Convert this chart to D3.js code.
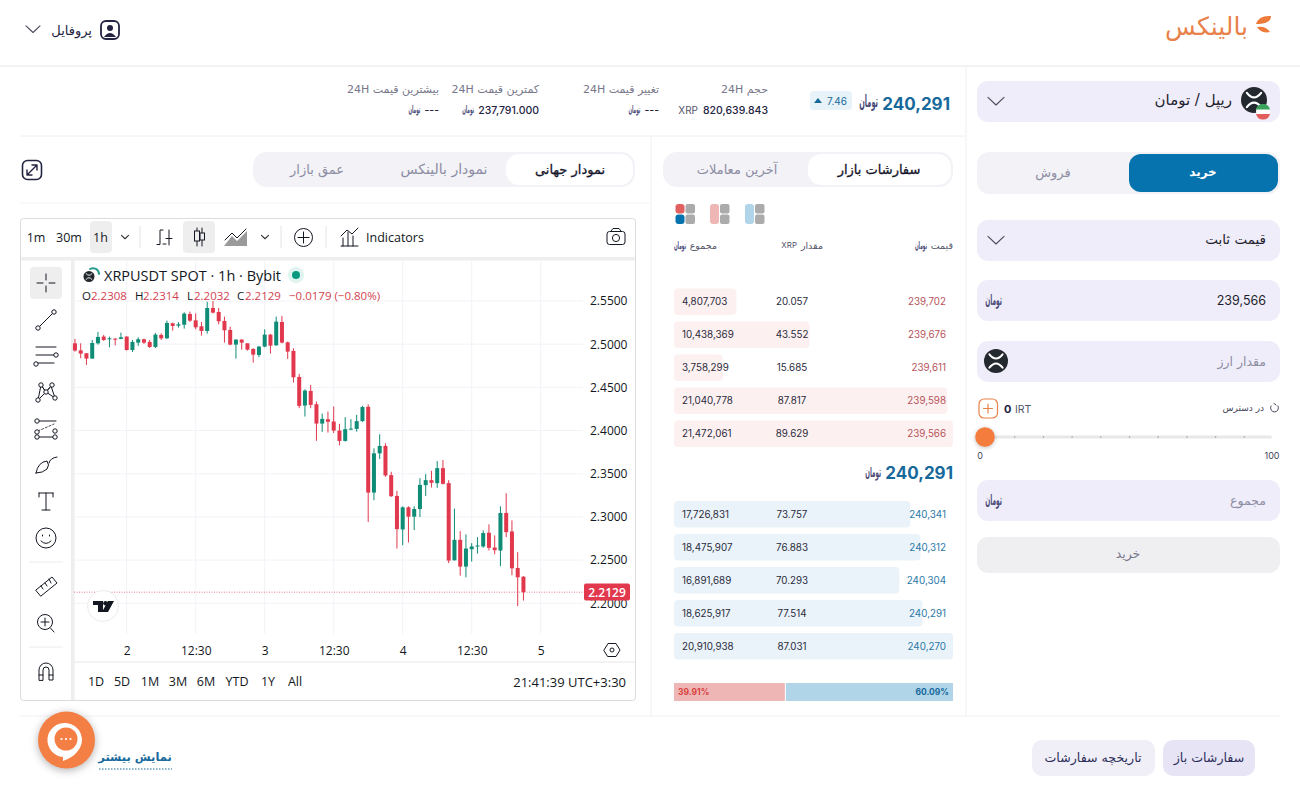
<!DOCTYPE html>
<html lang="fa">
<head>
<meta charset="utf-8">
<title>XRP / IRT</title>
<script src="https://d3js.org/d3.v7.min.js"></script>
<style>
  html, body { margin: 0; background: #fff; overflow: hidden; }
  svg { display: block; }
  text { font-family: "DejaVu Sans", sans-serif; }
  .num { font-family: "Inter", sans-serif; }
  .tv text, text.tv { font-family: "Open Sans", sans-serif; }
</style>
</head>
<body>
<div id="chart"></div>
<script>
// candles, hourly, oldest first
const opens = [2.5010,2.4929,2.4895,2.4833,2.5010,2.5088,2.5061,2.5064,2.5061,2.5088,2.4933,2.5018,2.5057,2.5026,2.4968,2.5107,2.5068,2.5242,2.5215,2.5226,2.5350,2.5276,2.5207,2.5153,2.5419,2.5373,2.5269,2.5165,2.4995,2.5053,2.5010,2.4945,2.4875,2.4972,2.5111,2.4987,2.5257,2.5022,2.4922,2.4621,2.4290,2.4459,2.4305,2.4081,2.4131,2.4105,2.4000,2.3880,2.4012,2.4019,2.4109,2.4275,2.3282,2.3736,2.3822,2.3484,2.3243,2.2855,2.3111,2.3003,2.3092,2.3368,2.3426,2.3391,2.3565,2.3391,2.2498,2.2735,2.2425,2.2626,2.2661,2.2658,2.2817,2.2646,2.2611,2.3046,2.2832,2.2409,2.2308];
const highs = [2.5061,2.5010,2.4895,2.5049,2.5141,2.5107,2.5088,2.5072,2.5134,2.5092,2.5049,2.5080,2.5064,2.5049,2.5130,2.5126,2.5273,2.5249,2.5257,2.5369,2.5377,2.5357,2.5257,2.5492,2.5500,2.5419,2.5319,2.5203,2.5057,2.5057,2.5010,2.4953,2.4980,2.5172,2.5118,2.5319,2.5327,2.5030,2.4953,2.4656,2.4478,2.4529,2.4336,2.4197,2.4220,2.4279,2.4078,2.4155,2.4132,2.4182,2.4287,2.4303,2.3794,2.3957,2.3853,2.3523,2.3302,2.3123,2.3123,2.3123,2.3449,2.3496,2.3534,2.3647,2.3659,2.3426,2.3096,2.2836,2.2797,2.2696,2.2766,2.2844,2.2914,2.2786,2.3123,2.3274,2.2960,2.2592,2.2314];
const lows = [2.4914,2.4837,2.4760,2.4833,2.4995,2.5037,2.4964,2.4987,2.5057,2.4926,2.4910,2.4980,2.5003,2.4956,2.4956,2.5049,2.5061,2.5157,2.5192,2.5180,2.5257,2.5172,2.5099,2.5122,2.5357,2.5230,2.5018,2.4987,2.4833,2.4937,2.4926,2.4787,2.4849,2.4964,2.4891,2.4980,2.5010,2.4829,2.4556,2.4259,2.4162,2.4259,2.3881,2.3985,2.3977,2.3972,2.3829,2.3872,2.4004,2.3988,2.4101,2.2941,2.3193,2.3670,2.3465,2.3232,2.2634,2.2673,2.2704,2.2848,2.2999,2.3243,2.3340,2.3337,2.3375,2.2464,2.2495,2.2320,2.2301,2.2483,2.2576,2.2642,2.2611,2.2568,2.2429,2.2766,2.2324,2.1967,2.2032];
const closes = [2.4926,2.4891,2.4833,2.5014,2.5084,2.5049,2.5068,2.5057,2.5080,2.4933,2.5026,2.5057,2.5018,2.4968,2.5111,2.5068,2.5246,2.5211,2.5230,2.5354,2.5273,2.5195,2.5153,2.5419,2.5365,2.5265,2.5161,2.4995,2.5053,2.5018,2.4937,2.4879,2.4972,2.5111,2.4983,2.5261,2.5018,2.4914,2.4617,2.4286,2.4463,2.4297,2.4081,2.4135,2.4101,2.4000,2.3880,2.4016,2.4023,2.4109,2.4272,2.3282,2.3736,2.3822,2.3480,2.3240,2.2859,2.3111,2.3003,2.3092,2.3371,2.3426,2.3395,2.3565,2.3383,2.2495,2.2735,2.2425,2.2634,2.2658,2.2669,2.2813,2.2642,2.2615,2.3046,2.2824,2.2405,2.2301,2.2129];
const firstHour = -9; // first candle sits 9 hours before the "2" tick
const lastPrice = 2.2129;

const priceTicks = [2.20,2.25,2.30,2.35,2.40,2.45,2.50,2.55];
const hourTicks = [0,12,24,36,48,60,72];
const hourLabels = ['2','12:30','3','12:30','4','12:30','5'];

const askPrices = ['239,702','239,676','239,611','239,598','239,566'];
const askAmounts = [20.057,43.552,15.685,87.817,89.629];
const askTotals = ['4,807,703','10,438,369','3,758,299','21,040,778','21,472,061'];
const bidPrices = ['240,341','240,312','240,304','240,291','240,270'];
const bidAmounts = [73.757,76.883,70.293,77.514,87.031];
const bidTotals = ['17,726,831','18,475,907','16,891,689','18,625,917','20,910,938'];
const buyShare = 39.91, sellShare = 60.09;

const stats = [
  { label: 'حجم 24H', value: '820,639.843', right: 768, unit: 'XRP' },
  { label: 'تغییر قیمت 24H', value: '---', right: 659 },
  { label: 'کمترین قیمت 24H', value: '237,791.000', right: 539 },
  { label: 'بیشترین قیمت 24H', value: '---', right: 439 }
];
const ranges = ['1D','5D','1M','3M','6M','YTD','1Y','All'];
const rangeX = [96,122,150,178,206,237,268,295];

const INK = '#232342', MUTED = '#8d8da3', BLUE = '#17699b', RED = '#b6545b', LILAC = '#efedfa', TAB = '#f2f2f7';
const UP = '#0e8c76', DOWN = '#e2384d', LINE = '#f0f0f3';

const svg = d3.select('#chart').append('svg').attr('width', 1300).attr('height', 800);

const rect = (x, y, w, h, fill, r = 0, parent = svg) => parent.append('rect')
  .attr('x', x).attr('y', y).attr('width', w).attr('height', h).attr('rx', r).attr('fill', fill);
const line = (x1, y1, x2, y2, color = LINE, width = 1) => svg.append('line')
  .attr('x1', x1).attr('y1', y1).attr('x2', x2).attr('y2', y2).attr('stroke', color).attr('stroke-width', width);
const icon = (d, color = INK, width = 1.2) => svg.append('path')
  .attr('d', d).attr('fill', 'none').attr('stroke', color).attr('stroke-width', width)
  .attr('stroke-linecap', 'round').attr('stroke-linejoin', 'round');
// Persian text, right edge at x
const fa = (x, y, str, size, color = INK, weight = 400) => svg.append('text')
  .attr('x', x).attr('y', y).attr('direction', 'rtl').attr('text-anchor', 'start')
  .attr('dominant-baseline', 'central').attr('font-size', size).attr('fill', color).attr('font-weight', weight).text(str);
const faMid = (x, y, str, size, color = INK, weight = 400) => fa(x, y, str, size, color, weight).attr('text-anchor', 'middle');
// DejaVu has no medium weight, a thin outline gets close
const medium = (sel, w = 0.3) => sel.attr('stroke', sel.attr('fill')).attr('stroke-width', w);
const num = (x, y, str, size, color = INK, anchor = 'start', weight = 400) => svg.append('text')
  .attr('class', 'num').attr('x', x).attr('y', y).attr('text-anchor', anchor)
  .attr('dominant-baseline', 'central').attr('font-size', size).attr('fill', color).attr('font-weight', weight).text(str);
const tv = (x, y, str, size, color = '#131722', anchor = 'start') => svg.append('text')
  .attr('class', 'tv').attr('x', x).attr('y', y).attr('text-anchor', anchor)
  .attr('dominant-baseline', 'central').attr('font-size', size).attr('fill', color).text(str);
// the toman mark is a tight, tall logotype in the original
const toman = (x, y, size = 8, color = '#4b4b78') => fa(0, 0, 'تومان', size, color, 700)
  .attr('transform', `translate(${x},${y}) scale(0.6,1.5)`);
const chevron = (x, y, s = 8, color = '#4a4a5c') => icon(`M${x - s},${y - s * 0.45}L${x},${y + s * 0.5}L${x + s},${y - s * 0.45}`, color, 1.1);
const xrpBadge = (x, y, r) => {
  svg.append('circle').attr('cx', x).attr('cy', y).attr('r', r).attr('fill', '#23292f');
  const a = r * 0.55, b = r * 0.15;
  icon(`M${x - a},${y - a}Q${x},${y + b} ${x + a},${y - a}M${x - a},${y + a}Q${x},${y - b} ${x + a},${y + a}`, '#fff', r / 6);
};

// page frame
line(0, 66, 1300, 66, '#e6e6e6');
line(966, 66, 966, 716);
line(651, 136, 651, 716);
line(20, 136, 966, 136);
line(20, 716, 1280, 716);
line(20, 203, 650, 203, '#f5f5f7');

// header
fa(1248, 26, 'بالینکس', 25, '#e9824a');
svg.append('path').attr('fill', '#ee7b3a').attr('d', 'M1256,24Q1259,15 1271,16Q1271,24 1256,24Z');
svg.append('path').attr('fill', '#ee7b3a').attr('d', 'M1257,27Q1266,26 1270,32Q1261,34 1257,27Z');
chevron(33, 29, 7);
fa(92, 30, 'پروفایل', 13);
rect(101, 21, 18, 18, 'none', 5).attr('stroke', INK).attr('stroke-width', 1.8);
svg.append('circle').attr('cx', 110).attr('cy', 28).attr('r', 3).attr('fill', INK);
svg.append('path').attr('fill', INK).attr('d', 'M104,37Q110,29 116,37Z');

// ticker row
num(950, 104, '240,291', 17, BLUE, 'end', 700);
toman(878, 101, 11);
rect(810, 91, 42, 19, '#e8f3f9', 4);
svg.append('path').attr('fill', BLUE).attr('d', 'M814,103L818,98L822,103Z');
num(827, 100.5, '7.46', 10, BLUE);
stats.forEach(d => {
  fa(d.right, 89, d.label, 11, '#77778a');
  const valueText = num(d.right, 110, d.value, 10.5, INK, 'end', 500);
  const w = valueText.node().getComputedTextLength();
  if (d.unit) num(d.right - w - 5, 110, d.unit, 10, '#55556a', 'end');
  else toman(d.right - w - 4, 109.5, 7);
});

// tabs
rect(253, 152, 382, 35, TAB, 14);
rect(506, 154, 127, 31, '#fff', 13);
medium(faMid(570, 169, 'نمودار جهانی', 13, '#15152a'));
faMid(444, 169, 'نمودار بالینکس', 14, MUTED);
faMid(317, 169, 'عمق بازار', 13, MUTED);
rect(663, 152, 290, 35, TAB, 14);
rect(808, 154, 143, 31, '#fff', 13);
medium(faMid(879, 169, 'سفارشات بازار', 13, '#15152a'));
faMid(737, 169, 'آخرین معاملات', 13, MUTED);
rect(22.5, 160.5, 19, 19, 'none', 5).attr('stroke', INK).attr('stroke-width', 1.6);
icon('M27,175L37,165M32,165H37V170M27,170V175H32', INK, 1.4);

// TradingView frame and toolbars
const frame = { left: 20.5, top: 218.5, right: 635.5, bottom: 700.5 };
rect(frame.left, frame.top, frame.right - frame.left, frame.bottom - frame.top, '#fff', 3)
  .attr('stroke', '#dcdcdc');
rect(21, 257, 614, 3.5, '#eeeeee');
rect(71, 258, 3.5, 442, '#eeeeee');
line(74, 662, 635, 662, '#e6e6e6');
[140, 281, 326].forEach(x => line(x, 226, x, 248, '#e4e4e4'));

rect(90, 221, 22, 32, '#eeeeee', 4);
rect(183, 221, 32, 32, '#eeeeee', 4);
rect(30, 267, 32, 32, '#eeeeee', 4);
tv(36, 237.5, '1m', 12.5, '#131722', 'middle');
tv(69, 237.5, '30m', 12.5, '#131722', 'middle');
tv(100.5, 237.5, '1h', 12.5, '#131722', 'middle');
tv(366, 237.5, 'Indicators', 12.5);
chevron(125, 237, 3.5, '#333');
chevron(265, 237, 3.5, '#333');
icon('M157,244.5H160V230H163M163,244H166M169,230V245M166,238.5H172', '#131722', 1);
icon('M197,228V246M202,228V246', '#131722', 1);
rect(194.5, 231, 5, 10, '#eeeeee').attr('stroke', '#131722');
rect(200, 233, 4.5, 7, '#eeeeee').attr('stroke', '#131722');
icon('M225,240L232,233L237,238L246,229', '#131722', 1);
svg.append('path').attr('fill', '#9a9a9a').attr('d', 'M224,246L232,236L237,241L247,231V246Z');
svg.append('circle').attr('cx', 303.5).attr('cy', 237.5).attr('r', 9).attr('fill', 'none').attr('stroke', '#131722');
icon('M303.5,232V243M298,237.5H309', '#131722', 1);
icon('M341,246H358M343,246V238M348,246V232M353,246V236M341,236L347,230L352,234L358,228', '#131722', 1);
rect(607, 231.5, 18, 13, 'none', 2.5).attr('stroke', '#131722');
svg.append('circle').attr('cx', 616).attr('cy', 238).attr('r', 3.6).attr('fill', 'none').attr('stroke', '#131722');
icon('M611,231L613,228.5H619L621,231', '#131722', 1);

// left tools
const T = '#131722';
icon('M46,274V280M46,286V292M37,283H43M49,283H55', T, 1);
const knob = (x, y) => svg.append('circle').attr('cx', x).attr('cy', y).attr('r', 2.2).attr('fill', '#fff').attr('stroke', T);
icon('M38,328L54,312', T, 1); knob(38, 328); knob(54, 312);
icon('M36,347H56M36,355H54M36,363H54', T, 1); knob(56, 355); knob(36, 364);
icon('M38,400L41,385L46,392L51,386L55,398M38,400L46,392L55,398M41,385L46,392L51,386', T, 1);
[[38, 400], [41, 385], [46, 392], [52, 385], [55, 398]].forEach(p => knob(p[0], p[1]));
icon('M36,421H56M36,437H56', T, 1); icon('M38,431L54,424', T, 0.8).attr('stroke-dasharray', '2,2');
[[37, 421], [37, 432], [55, 431], [37, 437], [55, 437]].forEach(p => knob(p[0], p[1]));
icon('M36,473Q38,462 47,461Q50,465 47,469Q43,473 36,473ZM49,463Q50,458 57,457', T, 1);
icon('M39,493H53M46,493V510M42,510H50M39,493V497M53,493V497', T, 1);
svg.append('circle').attr('cx', 46).attr('cy', 538).attr('r', 10).attr('fill', 'none').attr('stroke', T);
icon('M41,541Q46,546 51,541M42.5,535V536M49.5,535V536', T, 1);
line(29, 562, 63, 562, '#ececec'); line(29, 647, 63, 647, '#ececec');
icon('M36,590L52,577L57,583L41,596ZM41,586L43,589M45,583L47,586M49,579L51,583', T, 1);
svg.append('circle').attr('cx', 45).attr('cy', 622).attr('r', 7.5).attr('fill', 'none').attr('stroke', T);
icon('M45,618V626M41,622H49M50.5,628L54,632', T, 1);
icon('M39,680V670A7,7 0 0 1 53,670V680H49V670A3,3 0 0 0 43,670V680ZM39,675H43M49,675H53', T, 1);

// price chart
const plot = { left: 74, right: 583, top: 260, bottom: 634 };
const x = d3.scaleLinear().domain([0, 72]).range([126.7, 540.7]);
const y = d3.scaleLinear().domain([2.20, 2.55]).range([603.3, 301]);

const chart = svg.append('g').attr('class', 'tv');
chart.append('g').selectAll('line').data(priceTicks).join('line')
  .attr('x1', plot.left).attr('x2', plot.right)
  .attr('y1', d => y(d)).attr('y2', d => y(d)).attr('stroke', '#f1f3f8');
chart.append('g').selectAll('line').data(hourTicks).join('line')
  .attr('x1', d => x(d)).attr('x2', d => x(d))
  .attr('y1', plot.top).attr('y2', plot.bottom).attr('stroke', '#f1f3f8');

const candles = chart.append('g').selectAll('g').data(opens).join('g')
  .attr('fill', (d, i) => closes[i] >= d ? UP : DOWN)
  .attr('stroke', (d, i) => closes[i] >= d ? UP : DOWN);
candles.append('line')
  .attr('x1', (d, i) => x(firstHour + i)).attr('x2', (d, i) => x(firstHour + i))
  .attr('y1', (d, i) => y(highs[i])).attr('y2', (d, i) => y(lows[i]))
  .attr('stroke-width', 1);
candles.append('rect')
  .attr('x', (d, i) => x(firstHour + i) - 2).attr('width', 4)
  .attr('y', (d, i) => y(Math.max(d, closes[i])))
  .attr('height', (d, i) => Math.max(1, Math.abs(y(d) - y(closes[i]))))
  .attr('stroke', 'none');

chart.append('line')
  .attr('x1', plot.left).attr('x2', 584).attr('y1', y(lastPrice)).attr('y2', y(lastPrice))
  .attr('stroke', DOWN).attr('stroke-opacity', 0.65).attr('stroke-dasharray', '1,1.5');

const priceAxis = chart.append('g').attr('transform', 'translate(584,0)')
  .call(d3.axisRight(y).tickValues(priceTicks).tickFormat(d3.format('.4f')).tickSize(0).tickPadding(6));
priceAxis.select('.domain').remove();
priceAxis.selectAll('text').attr('font-size', 12).attr('fill', '#131722').style('font-family', '"Open Sans", sans-serif');

const timeAxis = chart.append('g').attr('transform', `translate(0,${plot.bottom})`)
  .call(d3.axisBottom(x).tickValues(hourTicks).tickFormat((d, i) => hourLabels[i]).tickSize(0).tickPadding(12));
timeAxis.select('.domain').remove();
timeAxis.selectAll('text').attr('font-size', 12).attr('fill', '#131722').style('font-family', '"Open Sans", sans-serif');

rect(584, 583.5, 46, 17, DOWN, 2);
tv(607, 592, d3.format('.4f')(lastPrice), 12, '#fff', 'middle').attr('font-weight', 600);
icon('M604,650L608,643.5H616L620,650L616,656.5H608Z', T, 1);
svg.append('circle').attr('cx', 612).attr('cy', 650).attr('r', 2).attr('fill', 'none').attr('stroke', T);

// legend over the chart
xrpBadge(89, 276.5, 5.5);
icon('M90,269A6,6 0 0 1 99,274', '#2a9d8f', 2);
tv(104, 275.5, 'XRPUSDT SPOT · 1h · Bybit', 14.5);
svg.append('circle').attr('cx', 296).attr('cy', 275).attr('r', 8).attr('fill', '#dff3ef');
svg.append('circle').attr('cx', 296).attr('cy', 275).attr('r', 4).attr('fill', '#089981');
const legendRed = '#d23f50';
[['O', 82, '2.2308', 91], ['H', 135, '2.2314', 143], ['L', 187, '2.2032', 194], ['C', 237, '2.2129', 245]].forEach(d => {
  tv(d[1], 295, d[0], 11.5);
  tv(d[3], 295, d[2], 11.5, legendRed);
});
tv(289, 295, '−0.0179 (−0.80%)', 11.5, legendRed);

// TradingView badge
svg.append('circle').attr('cx', 103).attr('cy', 606).attr('r', 15.5).attr('fill', '#fff').attr('stroke', '#ececec');
svg.append('path').attr('fill', '#131722').attr('d', 'M93,601H103V612H98V605H93ZM108,601H114L108,612H102Z');
svg.append('circle').attr('cx', 105.5).attr('cy', 603.3).attr('r', 2.3).attr('fill', '#131722');

// range bar
ranges.forEach((d, i) => tv(rangeX[i], 681.5, d, 12.5, '#131722', 'middle'));
tv(626, 681.5, '21:41:39 UTC+3:30', 13, '#131722', 'end');

// order book
[[685, '#e26060', '#0673ae'], [719.5, '#efb6b6', '#efb6b6'], [754.5, '#b0d4e8', '#b0d4e8']].forEach((d, i) => {
  const left = d[0] - 9.5;
  if (i === 0) {
    rect(left, 204, 9, 9.5, d[1], 3);
    rect(left, 214.5, 9, 9.5, d[2], 3);
  } else {
    rect(left, 204, 9, 20, d[1], 3);
  }
  rect(left + 10, 204, 9.5, 9.5, '#ababab', 2);
  rect(left + 10, 214.5, 9.5, 9.5, '#ababab', 2);
});
fa(953, 245, 'قیمت', 9.5, '#55556a');
toman(927, 245.5, 7);
fa(823, 245, 'مقدار', 9.5, '#55556a');
num(797, 245, 'XRP', 8, '#55556a', 'end');
fa(717, 245, 'مجموع', 9.5, '#55556a');
toman(686, 245.5, 7);

const depthRow = (group, top, prices, amounts, totals, fill, priceColor) => {
  const w = d3.scaleLinear().domain([0, d3.max(amounts)]).range([0, 279]);
  const rowY = d3.scalePoint().domain(d3.range(amounts.length)).range([top, top + 132]);
  const g = svg.append('g').attr('class', group);
  g.selectAll('rect').data(amounts).join('rect')
    .attr('x', 674).attr('y', (d, i) => rowY(i)).attr('rx', 4)
    .attr('width', d => w(d)).attr('height', 26.5).attr('fill', fill);
  amounts.forEach((d, i) => {
    const cy = rowY(i) + 13;
    num(682, cy, totals[i], 9.8, '#2b2b3d');
    num(792, cy, d3.format('.3f')(d), 9.8, '#2b2b3d', 'middle');
    num(946, cy, prices[i], 9.8, priceColor, 'end');
  });
};
depthRow('asks', 288.5, askPrices, askAmounts, askTotals, '#fdf0f0', RED);
depthRow('bids', 501, bidPrices, bidAmounts, bidTotals, '#eaf3f9', '#2a79a8');

num(953, 473, '240,291', 17, BLUE, 'end', 700);
toman(881, 472, 9.2);

const ratio = d3.scaleLinear().domain([0, buyShare + sellShare]).range([674, 953]);
rect(ratio(0), 683, ratio(buyShare) - ratio(0) - 0.5, 18, '#efb6b6');
rect(ratio(buyShare) + 0.5, 683, ratio(buyShare + sellShare) - ratio(buyShare) - 0.5, 18, '#b0d4e8');
num(678, 692, buyShare + '%', 8.5, '#d8423f', 'start', 700);
num(949, 692, sellShare + '%', 8.5, BLUE, 'end', 700);

// order form
rect(977, 81, 303, 41, LILAC, 11);
xrpBadge(1254, 100, 13);
svg.append('circle').attr('cx', 1263).attr('cy', 111.5).attr('r', 7).attr('fill', '#fff');
svg.append('path').attr('fill', '#3aa35c').attr('d', 'M1256,109.5A7.2,7.2 0 0 1 1270,109.5Z');
svg.append('path').attr('fill', '#e35d5d').attr('d', 'M1256,114A7.2,7.2 0 0 0 1270,114Z');
fa(1232, 100, 'ریپل / تومان', 15, '#1f1f2e');
chevron(996, 101, 8);

rect(977, 152, 303, 42, TAB, 12);
rect(1129, 154, 149, 38, '#0673ae', 12);
faMid(1203, 172, 'خرید', 12, '#fff', 700);
faMid(1053, 172, 'فروش', 13, MUTED);

rect(977, 220, 303, 41, LILAC, 11);
fa(1266, 239, 'قیمت ثابت', 13.5, '#1f1f2e');
chevron(996, 240, 8);

rect(977, 280, 303, 41, LILAC, 11);
num(1266, 300, '239,566', 12.5, '#1f1f2e', 'end');
toman(1002, 300, 9.8);

rect(977, 341, 303, 41, LILAC, 11);
fa(1266, 361, 'مقدار ارز', 12.5, MUTED);
xrpBadge(996, 361, 12);

rect(979, 399, 18.5, 19, '#fff', 5).attr('stroke', '#e9824a').attr('stroke-width', 1.2);
icon('M988,404V413M983.5,408.5H992.5', '#e9824a', 1.2);
num(1004, 409, '0', 11, INK, 'start', 700);
num(1015, 409, 'IRT', 10.5, '#55556a');
fa(1264, 408, 'در دسترس', 9, '#44445a');
icon('M1271,406A4,4 0 1 0 1278,406M1274,403.5L1276,405', '#44445a', 1);

const slider = d3.scaleLinear().domain([0, 100]).range([985, 1272]);
rect(slider(0), 435.5, slider(100) - slider(0), 3, '#e8e8e8', 1.5);
svg.append('g').selectAll('circle').data(d3.range(10, 100, 10)).join('circle')
  .attr('cx', d => slider(d) + 1).attr('cy', 437).attr('r', 0.8).attr('fill', '#9a9a9a');
svg.append('circle').attr('cx', slider(0)).attr('cy', 437).attr('r', 9.8).attr('fill', '#f47c3c')
  .style('filter', 'drop-shadow(0 1px 2px rgba(0,0,0,.25))');
num(980, 455, '0', 9, '#44445a', 'middle');
num(1272, 455, '100', 9, '#44445a', 'middle');

rect(977, 480, 303, 41, LILAC, 11);
fa(1266, 500, 'مجموع', 12.5, MUTED);
toman(1002, 500, 9.8);

rect(977, 537, 303, 36, '#efeff2', 11);
faMid(1128, 553, 'خرید', 12.5, '#77778a');

// footer
rect(1163, 740, 92, 36, '#e7e5f5', 10);
faMid(1209, 757, 'سفارشات باز', 12.6, '#2e2e5a');
rect(1032, 740, 123, 36, '#f0eff7', 10);
faMid(1093, 757, 'تاریخچه سفارشات', 12.6, '#2e2e5a');
faMid(135, 757, 'نمایش بیشتر', 11.5, BLUE, 700);
line(99, 769, 172, 769, BLUE).attr('stroke-dasharray', '1.5,1.5');

svg.append('ellipse').attr('cx', 66.5).attr('cy', 740).attr('rx', 28.5).attr('ry', 28.5).attr('fill', '#f47f45')
  .style('filter', 'drop-shadow(0 2px 4px rgba(0,0,0,.3))');
svg.append('path').attr('fill', '#fff').attr('d', 'M66,723A17,17 0 0 0 63,757V761Q72,758 77,752A17,17 0 0 0 66,723Z');
svg.append('circle').attr('cx', 66).attr('cy', 739).attr('r', 11.5).attr('fill', '#f47f45');
[-4.5, 0, 4.5].forEach(d => svg.append('circle').attr('cx', 66 + d).attr('cy', 739).attr('r', 1.1).attr('fill', '#fff'));
</script>
</body>
</html>
